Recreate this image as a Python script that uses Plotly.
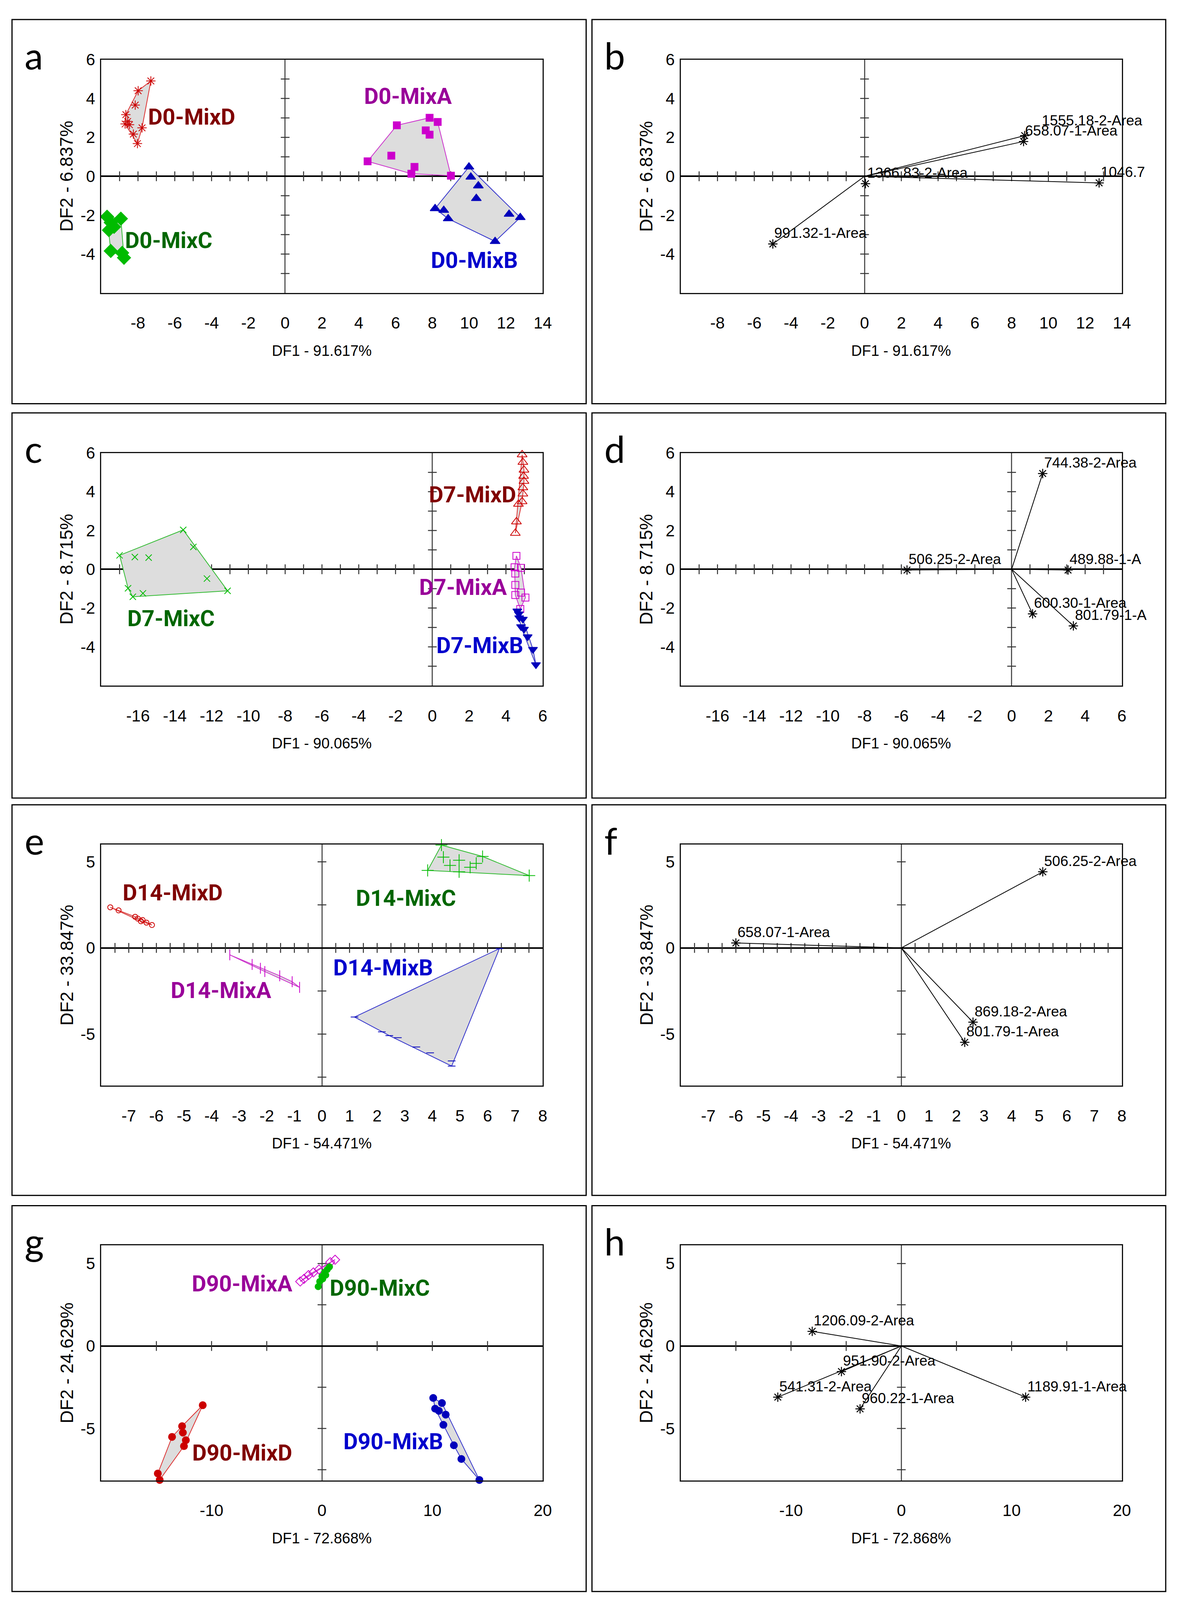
import numpy as np
import plotly.graph_objects as go

# reference geometry (pixel positions below are measured on a 3031 x 4684 page)
REF_W, REF_H = 3031, 4684
# the browser viewport actually shows 3031 x 4096; the page re-fits itself to the viewport
FIG_W, FIG_H = 3031, 4096

# ---------------- data ----------------
# Panel a : D0 discriminant scores
A_MIXD_X = [-7.30, -7.99, -8.15, -8.66, -8.70, -8.46, -7.78, -8.25, -8.03, -8.56]
A_MIXD_Y = [4.90, 4.40, 3.66, 3.17, 2.69, 2.65, 2.49, 2.17, 1.68, 2.82]
A_MIXA_X = [4.48, 6.07, 7.85, 8.29, 7.64, 7.85, 5.77, 7.03, 6.86, 9.01]
A_MIXA_Y = [0.77, 2.62, 3.01, 2.79, 2.36, 2.14, 1.06, 0.48, 0.13, 0.03]
A_MIXB_X = [9.99, 10.09, 10.50, 10.39, 8.15, 8.62, 8.86, 12.17, 12.78, 11.41]
A_MIXB_Y = [0.48, -0.04, -0.49, -1.14, -1.66, -1.75, -2.18, -1.95, -2.12, -3.35]
A_MIXC_X = [-9.68, -8.93, -9.48, -9.58, -9.48, -8.86, -8.76, -9.30]
A_MIXC_Y = [-2.08, -2.18, -2.38, -2.77, -3.84, -3.94, -4.19, -2.60]

# Panel b : D0 loadings
B_LABELS = ["1555.18-2-Area", "658.07-1-Area", "1366.83-2-Area", "1046.7", "991.32-1-Area"]
B_X = [8.71, 8.65, 0.05, 12.76, -4.99]
B_Y = [2.09, 1.79, -0.38, -0.34, -3.48]

# Panel c : D7 scores
C_MIXC_X = [-17.0, -16.17, -15.42, -13.54, -12.99, -12.25, -11.13, -16.54, -15.73, -16.28]
C_MIXC_Y = [0.72, 0.63, 0.60, 2.03, 1.15, -0.48, -1.11, -0.98, -1.24, -1.42]
C_MIXD_X = [4.88, 4.92, 4.98, 4.96, 4.98, 4.92, 4.92, 4.88, 4.68, 4.57, 4.51]
C_MIXD_Y = [5.91, 5.52, 5.12, 4.80, 4.54, 4.21, 3.89, 3.49, 3.36, 2.45, 1.86]
C_MIXA_X = [4.57, 4.47, 4.82, 4.51, 4.51, 4.51, 4.82, 5.06, 4.78]
C_MIXA_Y = [0.69, 0.10, 0.07, -0.22, -0.81, -1.33, -1.20, -1.46, -2.05]
C_MIXB_X = [4.62, 4.72, 4.92, 4.82, 4.98, 5.18, 5.47, 5.63, 4.70]
C_MIXB_Y = [-2.15, -2.50, -2.57, -2.96, -3.09, -3.48, -4.13, -4.92, -2.30]

# Panel d : D7 loadings
D_LABELS = ["744.38-2-Area", "506.25-2-Area", "489.88-1-A", "600.30-1-Area", "801.79-1-A"]
D_X = [1.69, -5.69, 3.07, 1.14, 3.36]
D_Y = [4.94, -0.04, -0.04, -2.30, -2.92]

# Panel e : D14 scores
E_MIXD_X = [-7.67, -7.37, -6.77, -6.67, -6.56, -6.50, -6.36, -6.16]
E_MIXD_Y = [2.36, 2.18, 1.81, 1.70, 1.55, 1.62, 1.47, 1.33]
E_MIXA_X = [-3.34, -2.53, -2.23, -2.07, -1.53, -1.08, -0.81]
E_MIXA_Y = [-0.40, -0.96, -1.18, -1.37, -1.62, -1.96, -2.29]
E_MIXC_X = [4.33, 4.40, 4.64, 4.97, 5.37, 5.59, 5.82, 3.83, 4.97, 7.51]
E_MIXC_Y = [5.97, 5.27, 4.79, 5.09, 4.68, 4.91, 5.31, 4.50, 4.42, 4.20]
E_MIXB_X = [6.43, 1.18, 2.17, 2.44, 2.75, 3.42, 3.92, 4.70, 4.70]
E_MIXB_Y = [-0.04, -4.01, -4.87, -5.09, -5.21, -5.75, -6.09, -6.56, -6.86]

# Panel f : D14 loadings
F_LABELS = ["506.25-2-Area", "658.07-1-Area", "869.18-2-Area", "801.79-1-Area"]
F_X = [5.13, -6.00, 2.60, 2.30]
F_Y = [4.42, 0.29, -4.31, -5.48]

# Panel g : D90 scores
G_MIXD_X = [-10.8, -12.67, -12.60, -13.58, -12.33, -12.50, -14.87, -14.70]
G_MIXD_Y = [-3.59, -4.86, -5.25, -5.51, -5.71, -6.07, -7.73, -8.12]
G_MIXB_X = [10.08, 10.25, 10.87, 10.59, 11.21, 11.00, 11.95, 12.63, 14.26]
G_MIXB_Y = [-3.15, -3.80, -3.46, -3.93, -4.16, -4.78, -6.02, -6.85, -8.12]
G_MIXA_X = [-1.97, -1.63, -1.22, -0.78, -0.27, 0.75, 1.19]
G_MIXA_Y = [3.91, 4.07, 4.30, 4.46, 4.64, 5.08, 5.23]
G_MIXC_X = [-0.34, -0.20, 0.0, 0.24, 0.48, 0.68, 0.07, 0.34]
G_MIXC_Y = [3.60, 3.91, 4.22, 4.46, 4.64, 4.80, 4.07, 4.30]

# Panel h : D90 loadings
H_LABELS = ["1206.09-2-Area", "951.90-2-Area", "541.31-2-Area", "960.22-1-Area", "1189.91-1-Area"]
H_X = [-8.08, -5.43, -11.2, -3.74, 11.27]
H_Y = [0.89, -1.55, -3.10, -3.81, -3.10]

# axis texts
X_TITLES = ["DF1 - 91.617%", "DF1 - 90.065%", "DF1 - 54.471%", "DF1 - 72.868%"]
Y_TITLES = ["DF2 - 6.837%", "DF2 - 8.715%", "DF2 - 33.847%", "DF2 - 24.629%"]
X_TICKS = [[-8, -6, -4, -2, 0, 2, 4, 6, 8, 10, 12, 14],
           [-16, -14, -12, -10, -8, -6, -4, -2, 0, 2, 4, 6],
           [-7, -6, -5, -4, -3, -2, -1, 0, 1, 2, 3, 4, 5, 6, 7, 8],
           [-10, 0, 10, 20]]
Y_TICKS = [[-4, -2, 0, 2, 4, 6],
           [-4, -2, 0, 2, 4, 6],
           [-5, 0, 5],
           [-5, 0, 5]]
PANEL_LETTERS = ["a", "b", "c", "d", "e", "f", "g", "h"]

# ---------------- styling / layout ----------------
X_RANGES = [[-10, 14], [-18, 6], [-8, 8], [-20, 20]]
Y_RANGES = [[-6, 6], [-6, 6], [-8, 6], [-8.15, 6.1]]
X_MINOR = [1, 1, 0.5, 5]
Y_MINOR = [1, 1, 2.5, 2.5]

COL_X = [(261, 1400), (1756, 2894)]
ROW_Y = [(149, 836), (1307, 1992), (2460, 3170), (3640, 4332)]
BOX_X = [(31, 1512), (1527, 3007)]
BOX_Y = [(31, 1162), (1189, 2323), (2343, 3493), (3523, 4659)]

TICK_FONT = "Liberation Sans, Arial, sans-serif"
REGULAR = "Liberation Sans, Arial, sans-serif"
BOLD_LABEL = "Roboto, Liberation Sans, sans-serif"
LETTER_FONT = "Lato, Open Sans, sans-serif"

COLORS = {
    "D": dict(label="#800000", marker="#CC0000", line="#DD3333"),
    "A": dict(label="#990099", marker="#CC00CC", line="#CC33CC"),
    "B": dict(label="#0000CC", marker="#0000BB", line="#3333CC"),
    "C": dict(label="#006600", marker="#00BB00", line="#33BB33"),
}
HULL_FILL = "#DDDDDD"
# label nudges for the loading plots (pixels)
LABEL_SHIFT = {"1555.18-2-Area": (42, 16)}
DEFAULT_SHIFT = (2, 5)


def px(v):
    return v / REF_W


def py(v):
    return 1 - v / REF_H


def hull(xs, ys):
    pts = sorted(set(zip(xs, ys)))
    if len(pts) < 3:
        return pts

    def cross(o, a, b):
        return (a[0] - o[0]) * (b[1] - o[1]) - (a[1] - o[1]) * (b[0] - o[0])

    lower, upper = [], []
    for p in pts:
        while len(lower) >= 2 and cross(lower[-2], lower[-1], p) <= 0:
            lower.pop()
        lower.append(p)
    for p in reversed(pts):
        while len(upper) >= 2 and cross(upper[-2], upper[-1], p) <= 0:
            upper.pop()
        upper.append(p)
    return lower[:-1] + upper[:-1]


fig = go.Figure()
annotations = []
shapes = []
layout = {}


def ax_names(idx):
    n = idx + 1
    return ("x" if n == 1 else f"x{n}"), ("y" if n == 1 else f"y{n}")


def add_group(idx, xs, ys, key, symbol, size, lw=2):
    xa, ya = ax_names(idx)
    c = COLORS[key]
    hp = hull(xs, ys)
    hx = [p[0] for p in hp] + [hp[0][0]]
    hy = [p[1] for p in hp] + [hp[0][1]]
    fig.add_trace(go.Scatter(x=hx, y=hy, mode="lines", fill="toself",
                             fillcolor=HULL_FILL,
                             line=dict(color=c["line"], width=2),
                             xaxis=xa, yaxis=ya, hoverinfo="skip", showlegend=False))
    mk = dict(symbol=symbol, size=size, color=c["marker"],
              line=dict(color=c["marker"], width=lw))
    fig.add_trace(go.Scatter(x=xs, y=ys, mode="markers", marker=mk,
                             xaxis=xa, yaxis=ya, showlegend=False, cliponaxis=False))


def add_label(idx, text, x, y, key):
    xa, ya = ax_names(idx)
    annotations.append(dict(x=x, y=y, xref=xa, yref=ya, text=text, showarrow=False,
                            xanchor="center", yanchor="middle",
                            font=dict(family=BOLD_LABEL, size=57, color=COLORS[key]["label"],
                                      weight="bold")))


def add_biplot(idx, labels, xs, ys):
    xa, ya = ax_names(idx)
    lx, ly = [], []
    for x, y in zip(xs, ys):
        lx += [0, x, None]
        ly += [0, y, None]
    fig.add_trace(go.Scatter(x=lx, y=ly, mode="lines", line=dict(color="#000000", width=2),
                             xaxis=xa, yaxis=ya, showlegend=False, hoverinfo="skip"))
    fig.add_trace(go.Scatter(x=xs, y=ys, mode="markers",
                             marker=dict(symbol="asterisk-open", size=20, color="#000000",
                                         line=dict(color="#000000", width=2.5)),
                             xaxis=xa, yaxis=ya, showlegend=False, cliponaxis=False))
    for t, x, y in zip(labels, xs, ys):
        dx, dy = LABEL_SHIFT.get(t, DEFAULT_SHIFT)
        annotations.append(dict(x=x, y=y, xref=xa, yref=ya, text=t, showarrow=False,
                                xanchor="left", yanchor="bottom", xshift=dx, yshift=dy,
                                font=dict(family=REGULAR, size=37, color="#000000")))


# build axes, ticks, frames for every panel
for idx in range(8):
    row, col = divmod(idx, 2)
    n = idx + 1
    xa, ya = ax_names(idx)
    x0, x1 = COL_X[col]
    y0, y1 = ROW_Y[row]
    xr, yr = X_RANGES[row], Y_RANGES[row]
    xt, yt = X_TICKS[row], Y_TICKS[row]
    common = dict(showgrid=False, showline=True, mirror=True, linecolor="#111111",
                  linewidth=3, ticks="", fixedrange=True)
    layout["xaxis" if n == 1 else f"xaxis{n}"] = dict(
        domain=[px(x0), px(x1)], range=xr, anchor=ya,
        tickvals=xt, ticktext=[f"{v:g}" for v in xt],
        tickfont=dict(family=TICK_FONT, size=42, color="#000000"),
        ticklabelstandoff=38,
        zeroline=True, zerolinecolor="#555555", zerolinewidth=3, **common)
    layout["yaxis" if n == 1 else f"yaxis{n}"] = dict(
        domain=[py(y1), py(y0)], range=yr, anchor=xa,
        tickvals=yt, ticktext=[f"{v:g}" for v in yt],
        tickfont=dict(family=TICK_FONT, size=42, color="#000000"),
        ticklabelstandoff=4,
        zeroline=True, zerolinecolor="#000000", zerolinewidth=4, **common)

    # tick marks on the zero lines
    sx = X_MINOR[row]
    mx = [v for v in np.arange(xr[0] + sx, xr[1] - 1e-9, sx) if abs(v) > 1e-9]
    sy = Y_MINOR[row]
    my = [v for v in np.arange(np.ceil(yr[0] / sy) * sy, yr[1] - 1e-9, sy)
          if abs(v) > 1e-9 and v > yr[0] + 1e-9]
    fig.add_trace(go.Scatter(x=mx, y=[0] * len(mx), mode="markers",
                             marker=dict(symbol="line-ns", size=18,
                                         line=dict(color="#333333", width=2.5)),
                             xaxis=xa, yaxis=ya, showlegend=False, hoverinfo="skip"))
    fig.add_trace(go.Scatter(x=[0] * len(my), y=my, mode="markers",
                             marker=dict(symbol="line-ew", size=16,
                                         line=dict(color="#333333", width=2.5)),
                             xaxis=xa, yaxis=ya, showlegend=False, hoverinfo="skip"))

    # axis titles
    annotations.append(dict(x=px((x0 + x1) / 2), y=py(y1 + 170), xref="paper", yref="paper",
                            text=X_TITLES[row], showarrow=False, xanchor="center", yanchor="middle",
                            font=dict(family=TICK_FONT, size=38, color="#000000")))
    annotations.append(dict(x=px(x0 - 89), y=py((y0 + y1) / 2), xref="paper", yref="paper",
                            text=Y_TITLES[row], showarrow=False, xanchor="center", yanchor="middle",
                            textangle=-90,
                            font=dict(family=REGULAR, size=46, color="#000000")))
    # panel letter (baseline ~165 px below the panel's top border)
    bx0, bx1 = BOX_X[col]
    by0, by1 = BOX_Y[row]
    annotations.append(dict(x=px(bx0 + 30), y=py(by0 + 163), xref="paper", yref="paper",
                            text=PANEL_LETTERS[idx], showarrow=False, xanchor="left", yanchor="bottom",
                            yshift=-8,
                            font=dict(family=LETTER_FONT, size=95, color="#000000")))
    shapes.append(dict(type="rect", xref="paper", yref="paper",
                       x0=px(bx0), x1=px(bx1), y0=py(by1), y1=py(by0),
                       line=dict(color="#000000", width=3), fillcolor="rgba(0,0,0,0)"))

# panel a
add_group(0, A_MIXD_X, A_MIXD_Y, "D", "asterisk-open", 20)
add_group(0, A_MIXA_X, A_MIXA_Y, "A", "square", 18)
add_group(0, A_MIXB_X, A_MIXB_Y, "B", "triangle-up", 22)
add_group(0, A_MIXC_X, A_MIXC_Y, "C", "diamond", 26)
add_label(0, "D0-MixD", -5.09, 3.04, "D")
add_label(0, "D0-MixA", 6.68, 4.12, "A")
add_label(0, "D0-MixC", -6.32, -3.29, "C")
add_label(0, "D0-MixB", 10.29, -4.32, "B")
# panel b
add_biplot(1, B_LABELS, B_X, B_Y)
# panel c
add_group(2, C_MIXC_X, C_MIXC_Y, "C", "x-thin-open", 16)
add_group(2, C_MIXD_X, C_MIXD_Y, "D", "triangle-up-open", 22)
add_group(2, C_MIXA_X, C_MIXA_Y, "A", "square-open", 18)
add_group(2, C_MIXB_X, C_MIXB_Y, "B", "triangle-down", 20)
add_label(2, "D7-MixD", 2.19, 3.85, "D")
add_label(2, "D7-MixA", 1.68, -0.94, "A")
add_label(2, "D7-MixC", -14.2, -2.54, "C")
add_label(2, "D7-MixB", 2.59, -3.94, "B")
# panel d
add_biplot(3, D_LABELS, D_X, D_Y)
# panel e
add_group(4, E_MIXD_X, E_MIXD_Y, "D", "circle-open", 13)
add_group(4, E_MIXA_X, E_MIXA_Y, "A", "line-ns-open", 20)
add_group(4, E_MIXC_X, E_MIXC_Y, "C", "cross-thin-open", 22)
add_group(4, E_MIXB_X, E_MIXB_Y, "B", "line-ew-open", 14)
add_label(4, "D14-MixD", -5.41, 3.20, "D")
add_label(4, "D14-MixC", 3.04, 2.88, "C")
add_label(4, "D14-MixB", 2.21, -1.15, "B")
add_label(4, "D14-MixA", -3.65, -2.46, "A")
# panel f
add_biplot(5, F_LABELS, F_X, F_Y)
# panel g
add_group(6, G_MIXD_X, G_MIXD_Y, "D", "circle", 18)
add_group(6, G_MIXB_X, G_MIXB_Y, "B", "circle", 18)
add_group(6, G_MIXA_X, G_MIXA_Y, "A", "diamond-open", 18)
add_group(6, G_MIXC_X, G_MIXC_Y, "C", "circle", 16)
add_label(6, "D90-MixA", -7.23, 3.76, "A")
add_label(6, "D90-MixC", 5.23, 3.52, "C")
add_label(6, "D90-MixD", -7.23, -6.49, "D")
add_label(6, "D90-MixB", 6.45, -5.79, "B")
# panel h
add_biplot(7, H_LABELS, H_X, H_Y)

fig.update_layout(width=FIG_W, height=FIG_H, autosize=False,
                  margin=dict(l=0, r=0, t=0, b=0),
                  paper_bgcolor="#FFFFFF", plot_bgcolor="#FFFFFF",
                  showlegend=False, annotations=annotations, shapes=shapes,
                  **layout)

# fit the figure to the browser viewport so that nothing is cut off
POST = """
document.body.style.margin = '0';
document.body.style.overflow = 'hidden';
var gd = document.getElementById('{plot_id}');
var w = window.innerWidth, h = window.innerHeight;
if (w > 500 && h > 500 && (Math.abs(w - gd._fullLayout.width) > 1 || Math.abs(h - gd._fullLayout.height) > 1)) {
  Plotly.relayout(gd, {width: w, height: h});
}
"""
fig.write_html("out.html", config={"displayModeBar": False, "staticPlot": True}, post_script=POST)
